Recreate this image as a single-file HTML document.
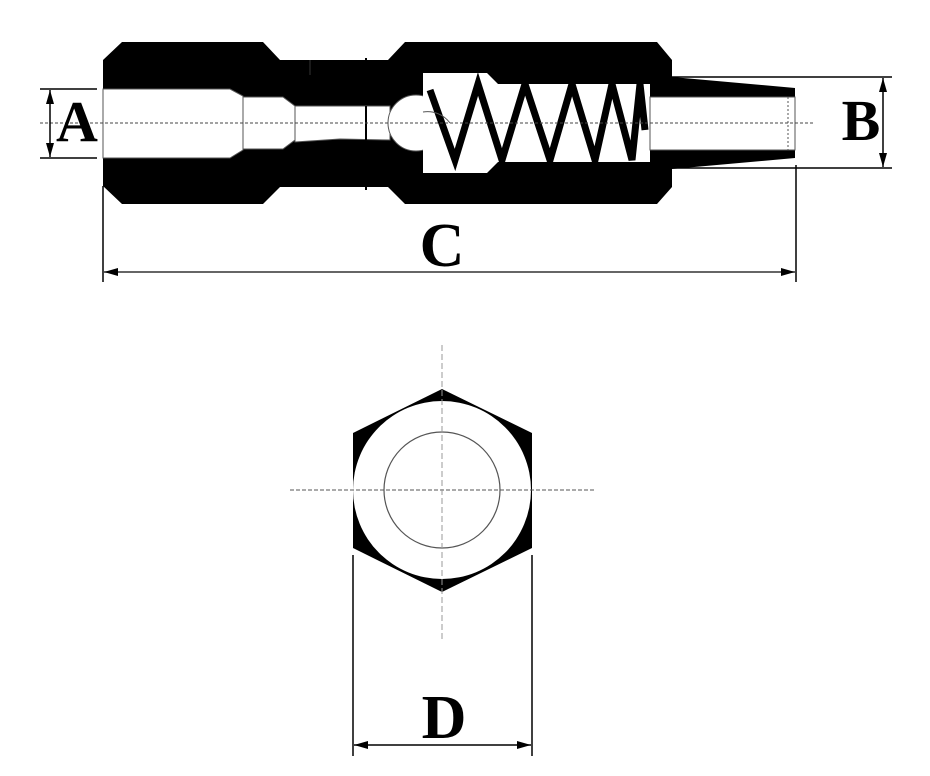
<!DOCTYPE html>
<html><head><style>html,body{margin:0;padding:0;background:#fff;}svg{display:block}</style></head>
<body>
<svg width="930" height="776" viewBox="0 0 930 776" xmlns="http://www.w3.org/2000/svg">
<defs>
<marker id="ar" viewBox="0 0 14 10" refX="14" refY="5" markerWidth="14" markerHeight="10" orient="auto-start-reverse" markerUnits="userSpaceOnUse"><path d="M0,1 L14,5 L0,9 z" fill="#000"/></marker>
</defs>
<path d="M103,60 L122,42 L263,42 L280,60 L388,60 L405,42 L657,42 L672,60 L672,187 L657,204 L405,204 L388,187 L280,187 L263,204 L122,204 L103,186 Z" fill="#000"/>
<path d="M672,77 L795,88 L795,158 L672,169 Z" fill="#000"/>
<path d="M103,89 L230,89 L243,96 L243,150 L230,158 L103,158 Z" fill="#fff" stroke="#555" stroke-width="1"/>
<path d="M243,97 L283,97 L295,106 L295,140 L283,149 L243,149 Z" fill="#fff" stroke="#555" stroke-width="1"/>
<path d="M295,106 L390,106 L390,140 L340,139 L295,142 Z" fill="#fff" stroke="#555" stroke-width="1"/>
<line x1="366" y1="106" x2="366" y2="140" stroke="#000" stroke-width="2"/>
<line x1="310" y1="60" x2="310" y2="75" stroke="#333" stroke-width="1"/>
<line x1="366" y1="58" x2="366" y2="70" stroke="#000" stroke-width="2"/>
<line x1="366" y1="178" x2="366" y2="190" stroke="#000" stroke-width="2"/>
<circle cx="416" cy="123" r="28" fill="#fff" stroke="#555" stroke-width="1"/>
<path d="M423,73 L487,73 L498,84 L650,84 L650,162 L498,162 L487,173 L423,173 Z" fill="#fff"/>
<path d="M650,97 L795,97 L795,150 L650,150 Z" fill="#fff" stroke="#555" stroke-width="1"/>
<line x1="788" y1="97" x2="788" y2="150" stroke="#555" stroke-width="1" stroke-dasharray="2,2"/>
<polyline points="430,90 455,160 478,84 502,160 525,84 550,160 572,84 595,160 612,84 632,160 640,84 645,130" fill="none" stroke="#000" stroke-width="7" stroke-linejoin="miter"/>
<path d="M423,112 A28,28 0 0 1 450,123" fill="none" stroke="#555"/>
<line x1="40" y1="123" x2="815" y2="123" stroke="#444" stroke-width="1" stroke-dasharray="3,2"/>
<line x1="40" y1="89" x2="97" y2="89" stroke="#000" stroke-width="1.5"/>
<line x1="40" y1="158" x2="97" y2="158" stroke="#000" stroke-width="1.5"/>
<line x1="50" y1="90" x2="50" y2="157" stroke="#000" stroke-width="1.5" marker-start="url(#ar)" marker-end="url(#ar)"/>
<text x="77" y="141" font-family="Liberation Serif, serif" font-weight="bold" font-size="58" text-anchor="middle">A</text>
<line x1="672" y1="77" x2="892" y2="77" stroke="#000" stroke-width="1.5"/>
<line x1="672" y1="168" x2="892" y2="168" stroke="#000" stroke-width="1.5"/>
<line x1="883" y1="78" x2="883" y2="167" stroke="#000" stroke-width="1.5" marker-start="url(#ar)" marker-end="url(#ar)"/>
<text x="861" y="140" font-family="Liberation Serif, serif" font-weight="bold" font-size="58" text-anchor="middle">B</text>
<line x1="103" y1="186" x2="103" y2="282" stroke="#000" stroke-width="1.5"/>
<line x1="796" y1="165" x2="796" y2="282" stroke="#000" stroke-width="1.5"/>
<line x1="104" y1="272" x2="795" y2="272" stroke="#333" stroke-width="1.5" marker-start="url(#ar)" marker-end="url(#ar)"/>
<text x="442" y="266" font-family="Liberation Serif, serif" font-weight="bold" font-size="62" text-anchor="middle">C</text>
<polygon points="442,389 532,433 532,548 442,592 353,548 353,433" fill="#000"/>
<circle cx="442" cy="490" r="89" fill="#fff"/>
<circle cx="442" cy="490" r="58" fill="none" stroke="#555" stroke-width="1.2"/>
<line x1="290" y1="490" x2="595" y2="490" stroke="#555" stroke-width="1" stroke-dasharray="4,2"/>
<line x1="442" y1="345" x2="442" y2="640" stroke="#999" stroke-width="1" stroke-dasharray="6,3"/>
<line x1="353" y1="555" x2="353" y2="756" stroke="#000" stroke-width="1.5"/>
<line x1="532" y1="555" x2="532" y2="756" stroke="#000" stroke-width="1.5"/>
<line x1="354" y1="745" x2="531" y2="745" stroke="#000" stroke-width="1.5" marker-start="url(#ar)" marker-end="url(#ar)"/>
<text x="444" y="738" font-family="Liberation Serif, serif" font-weight="bold" font-size="62" text-anchor="middle">D</text>
</svg>
</body></html>
